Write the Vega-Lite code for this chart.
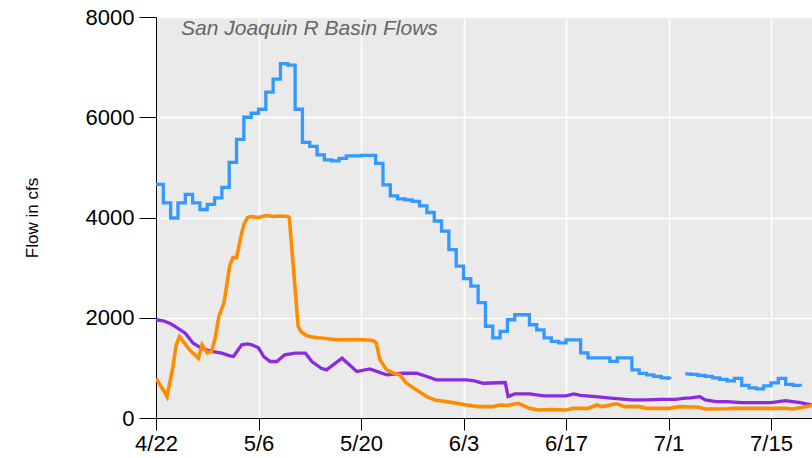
{
  "$schema": "https://vega.github.io/schema/vega-lite/v6.json",
  "width": 656,
  "height": 401,
  "autosize": {"type": "none"},
  "padding": {"left": 156, "top": 17, "right": 0, "bottom": 40},
  "background": "white",
  "title": {
    "text": "San Joaquin R Basin Flows",
    "anchor": "start",
    "frame": "group",
    "orient": "top",
    "offset": -33,
    "dx": 25,
    "fontSize": 21,
    "fontStyle": "italic",
    "fontWeight": "normal",
    "font": "Liberation Sans",
    "color": "#666666"
  },
  "config": {
    "view": {"fill": "#EAEAEA", "stroke": null},
    "axis": {
      "labelFont": "Liberation Sans",
      "titleFont": "Liberation Sans",
      "labelColor": "#000000",
      "titleColor": "#000000",
      "domainColor": "#000000",
      "tickColor": "#000000",
      "gridColor": "#FFFFFF",
      "gridWidth": 1.6,
      "gridOpacity": 1
    }
  },
  "datasets": {
    "blue": [
      {"t": "2019-04-22T00:00Z", "v": 4660},
      {"t": "2019-04-23T00:00Z", "v": 4290},
      {"t": "2019-04-24T00:00Z", "v": 3990},
      {"t": "2019-04-25T00:00Z", "v": 4290},
      {"t": "2019-04-26T00:00Z", "v": 4460},
      {"t": "2019-04-27T00:00Z", "v": 4290},
      {"t": "2019-04-28T00:00Z", "v": 4160},
      {"t": "2019-04-29T00:00Z", "v": 4260},
      {"t": "2019-04-30T00:00Z", "v": 4390},
      {"t": "2019-05-01T00:00Z", "v": 4600},
      {"t": "2019-05-02T00:00Z", "v": 5100},
      {"t": "2019-05-03T00:00Z", "v": 5560},
      {"t": "2019-05-04T00:00Z", "v": 6000},
      {"t": "2019-05-05T00:00Z", "v": 6080},
      {"t": "2019-05-06T00:00Z", "v": 6160},
      {"t": "2019-05-07T00:00Z", "v": 6500},
      {"t": "2019-05-08T00:00Z", "v": 6760},
      {"t": "2019-05-09T00:00Z", "v": 7070},
      {"t": "2019-05-10T00:00Z", "v": 7040},
      {"t": "2019-05-11T00:00Z", "v": 6160},
      {"t": "2019-05-12T00:00Z", "v": 5500},
      {"t": "2019-05-13T00:00Z", "v": 5420},
      {"t": "2019-05-14T00:00Z", "v": 5250},
      {"t": "2019-05-15T00:00Z", "v": 5150},
      {"t": "2019-05-16T00:00Z", "v": 5130},
      {"t": "2019-05-17T00:00Z", "v": 5180},
      {"t": "2019-05-18T00:00Z", "v": 5230},
      {"t": "2019-05-19T00:00Z", "v": 5230},
      {"t": "2019-05-20T00:00Z", "v": 5240},
      {"t": "2019-05-21T00:00Z", "v": 5240},
      {"t": "2019-05-22T00:00Z", "v": 5080},
      {"t": "2019-05-23T00:00Z", "v": 4650},
      {"t": "2019-05-24T00:00Z", "v": 4430},
      {"t": "2019-05-25T00:00Z", "v": 4370},
      {"t": "2019-05-26T00:00Z", "v": 4350},
      {"t": "2019-05-27T00:00Z", "v": 4320},
      {"t": "2019-05-28T00:00Z", "v": 4230},
      {"t": "2019-05-29T00:00Z", "v": 4100},
      {"t": "2019-05-30T00:00Z", "v": 3930},
      {"t": "2019-05-31T00:00Z", "v": 3730},
      {"t": "2019-06-01T00:00Z", "v": 3360},
      {"t": "2019-06-02T00:00Z", "v": 3030},
      {"t": "2019-06-03T00:00Z", "v": 2780},
      {"t": "2019-06-04T00:00Z", "v": 2630},
      {"t": "2019-06-05T00:00Z", "v": 2300},
      {"t": "2019-06-06T00:00Z", "v": 1830},
      {"t": "2019-06-07T00:00Z", "v": 1600},
      {"t": "2019-06-08T00:00Z", "v": 1730},
      {"t": "2019-06-09T00:00Z", "v": 1960},
      {"t": "2019-06-10T00:00Z", "v": 2060},
      {"t": "2019-06-11T00:00Z", "v": 2060},
      {"t": "2019-06-12T00:00Z", "v": 1860},
      {"t": "2019-06-13T00:00Z", "v": 1760},
      {"t": "2019-06-14T00:00Z", "v": 1600},
      {"t": "2019-06-15T00:00Z", "v": 1530},
      {"t": "2019-06-16T00:00Z", "v": 1500},
      {"t": "2019-06-17T00:00Z", "v": 1560},
      {"t": "2019-06-18T00:00Z", "v": 1560},
      {"t": "2019-06-19T00:00Z", "v": 1300},
      {"t": "2019-06-20T00:00Z", "v": 1200},
      {"t": "2019-06-21T00:00Z", "v": 1200},
      {"t": "2019-06-22T00:00Z", "v": 1200},
      {"t": "2019-06-23T00:00Z", "v": 1130},
      {"t": "2019-06-24T00:00Z", "v": 1200},
      {"t": "2019-06-25T00:00Z", "v": 1200},
      {"t": "2019-06-26T00:00Z", "v": 960},
      {"t": "2019-06-27T00:00Z", "v": 890},
      {"t": "2019-06-28T00:00Z", "v": 860},
      {"t": "2019-06-29T00:00Z", "v": 830},
      {"t": "2019-06-30T00:00Z", "v": 800},
      {"t": "2019-07-01T00:00Z", "v": 790},
      {"t": "2019-07-01T05:00Z", "v": 785},
      {"t": "2019-07-02T00:00Z", "v": null},
      {"t": "2019-07-03T07:00Z", "v": 880},
      {"t": "2019-07-04T00:00Z", "v": 870},
      {"t": "2019-07-05T00:00Z", "v": 850},
      {"t": "2019-07-06T00:00Z", "v": 830},
      {"t": "2019-07-07T00:00Z", "v": 800},
      {"t": "2019-07-08T00:00Z", "v": 770},
      {"t": "2019-07-09T00:00Z", "v": 740},
      {"t": "2019-07-10T00:00Z", "v": 790},
      {"t": "2019-07-11T00:00Z", "v": 650},
      {"t": "2019-07-12T00:00Z", "v": 600},
      {"t": "2019-07-13T00:00Z", "v": 580},
      {"t": "2019-07-14T00:00Z", "v": 640},
      {"t": "2019-07-15T00:00Z", "v": 700},
      {"t": "2019-07-16T00:00Z", "v": 790},
      {"t": "2019-07-17T00:00Z", "v": 670},
      {"t": "2019-07-18T00:00Z", "v": 650},
      {"t": "2019-07-19T00:00Z", "v": 630}
    ],
    "orange": [
      {"t": "2019-04-22T00:00Z", "v": 790},
      {"t": "2019-04-23T00:00Z", "v": 560},
      {"t": "2019-04-23T12:00Z", "v": 427},
      {"t": "2019-04-24T07:00Z", "v": 1000},
      {"t": "2019-04-24T18:00Z", "v": 1450},
      {"t": "2019-04-25T05:00Z", "v": 1627},
      {"t": "2019-04-26T05:00Z", "v": 1427},
      {"t": "2019-04-27T00:00Z", "v": 1300},
      {"t": "2019-04-27T19:00Z", "v": 1193},
      {"t": "2019-04-28T07:00Z", "v": 1460},
      {"t": "2019-04-29T00:00Z", "v": 1300},
      {"t": "2019-04-29T14:00Z", "v": 1330},
      {"t": "2019-04-30T02:00Z", "v": 1593},
      {"t": "2019-04-30T14:00Z", "v": 2027},
      {"t": "2019-05-01T07:00Z", "v": 2300},
      {"t": "2019-05-02T02:00Z", "v": 3050},
      {"t": "2019-05-02T12:00Z", "v": 3200},
      {"t": "2019-05-03T00:00Z", "v": 3200},
      {"t": "2019-05-03T12:00Z", "v": 3560},
      {"t": "2019-05-04T00:00Z", "v": 3860},
      {"t": "2019-05-04T12:00Z", "v": 4000},
      {"t": "2019-05-05T00:00Z", "v": 4020},
      {"t": "2019-05-06T00:00Z", "v": 4000},
      {"t": "2019-05-07T00:00Z", "v": 4040},
      {"t": "2019-05-08T00:00Z", "v": 4020},
      {"t": "2019-05-09T00:00Z", "v": 4030},
      {"t": "2019-05-10T00:00Z", "v": 4020},
      {"t": "2019-05-10T05:00Z", "v": 4000},
      {"t": "2019-05-11T10:00Z", "v": 1830},
      {"t": "2019-05-11T19:00Z", "v": 1727},
      {"t": "2019-05-12T12:00Z", "v": 1650},
      {"t": "2019-05-13T00:00Z", "v": 1627},
      {"t": "2019-05-14T00:00Z", "v": 1600},
      {"t": "2019-05-15T00:00Z", "v": 1590},
      {"t": "2019-05-16T00:00Z", "v": 1570},
      {"t": "2019-05-17T00:00Z", "v": 1560},
      {"t": "2019-05-18T00:00Z", "v": 1560},
      {"t": "2019-05-19T00:00Z", "v": 1565},
      {"t": "2019-05-20T00:00Z", "v": 1560},
      {"t": "2019-05-21T00:00Z", "v": 1555},
      {"t": "2019-05-21T17:00Z", "v": 1540},
      {"t": "2019-05-22T02:00Z", "v": 1500},
      {"t": "2019-05-22T14:00Z", "v": 1160},
      {"t": "2019-05-23T12:00Z", "v": 960},
      {"t": "2019-05-24T12:00Z", "v": 893},
      {"t": "2019-05-25T07:00Z", "v": 860},
      {"t": "2019-05-26T05:00Z", "v": 693},
      {"t": "2019-05-27T14:00Z", "v": 560},
      {"t": "2019-05-29T00:00Z", "v": 427},
      {"t": "2019-05-30T02:00Z", "v": 360},
      {"t": "2019-06-01T14:00Z", "v": 307},
      {"t": "2019-06-03T10:00Z", "v": 260},
      {"t": "2019-06-05T00:00Z", "v": 227},
      {"t": "2019-06-07T00:00Z", "v": 227},
      {"t": "2019-06-08T00:00Z", "v": 260},
      {"t": "2019-06-09T00:00Z", "v": 250},
      {"t": "2019-06-10T12:00Z", "v": 293},
      {"t": "2019-06-12T00:00Z", "v": 193},
      {"t": "2019-06-13T07:00Z", "v": 160},
      {"t": "2019-06-15T00:00Z", "v": 170},
      {"t": "2019-06-17T00:00Z", "v": 160},
      {"t": "2019-06-18T00:00Z", "v": 193},
      {"t": "2019-06-20T00:00Z", "v": 193},
      {"t": "2019-06-21T05:00Z", "v": 260},
      {"t": "2019-06-22T00:00Z", "v": 227},
      {"t": "2019-06-23T17:00Z", "v": 280},
      {"t": "2019-06-24T00:00Z", "v": 280},
      {"t": "2019-06-25T00:00Z", "v": 227},
      {"t": "2019-06-27T00:00Z", "v": 227},
      {"t": "2019-06-28T00:00Z", "v": 193},
      {"t": "2019-07-01T00:00Z", "v": 193},
      {"t": "2019-07-02T14:00Z", "v": 227},
      {"t": "2019-07-04T00:00Z", "v": 220},
      {"t": "2019-07-05T00:00Z", "v": 220},
      {"t": "2019-07-06T00:00Z", "v": 180},
      {"t": "2019-07-09T00:00Z", "v": 185},
      {"t": "2019-07-10T00:00Z", "v": 193},
      {"t": "2019-07-14T00:00Z", "v": 193},
      {"t": "2019-07-17T00:00Z", "v": 193},
      {"t": "2019-07-18T00:00Z", "v": 180},
      {"t": "2019-07-19T12:00Z", "v": 220},
      {"t": "2019-07-21T00:00Z", "v": 265}
    ],
    "purple": [
      {"t": "2019-04-22T00:00Z", "v": 1960},
      {"t": "2019-04-23T00:00Z", "v": 1940},
      {"t": "2019-04-24T00:00Z", "v": 1880},
      {"t": "2019-04-24T14:00Z", "v": 1827},
      {"t": "2019-04-26T00:00Z", "v": 1693},
      {"t": "2019-04-27T02:00Z", "v": 1493},
      {"t": "2019-04-28T05:00Z", "v": 1393},
      {"t": "2019-04-29T14:00Z", "v": 1327},
      {"t": "2019-05-01T00:00Z", "v": 1293},
      {"t": "2019-05-02T02:00Z", "v": 1240},
      {"t": "2019-05-02T14:00Z", "v": 1227},
      {"t": "2019-05-03T17:00Z", "v": 1460},
      {"t": "2019-05-04T12:00Z", "v": 1480},
      {"t": "2019-05-05T02:00Z", "v": 1460},
      {"t": "2019-05-06T00:00Z", "v": 1400},
      {"t": "2019-05-06T17:00Z", "v": 1227},
      {"t": "2019-05-07T14:00Z", "v": 1127},
      {"t": "2019-05-08T12:00Z", "v": 1127},
      {"t": "2019-05-09T14:00Z", "v": 1260},
      {"t": "2019-05-11T00:00Z", "v": 1293},
      {"t": "2019-05-12T10:00Z", "v": 1293},
      {"t": "2019-05-13T07:00Z", "v": 1127},
      {"t": "2019-05-14T14:00Z", "v": 993},
      {"t": "2019-05-15T07:00Z", "v": 960},
      {"t": "2019-05-17T10:00Z", "v": 1193},
      {"t": "2019-05-19T10:00Z", "v": 927},
      {"t": "2019-05-21T05:00Z", "v": 980},
      {"t": "2019-05-23T12:00Z", "v": 860},
      {"t": "2019-05-25T17:00Z", "v": 893},
      {"t": "2019-05-27T14:00Z", "v": 893},
      {"t": "2019-05-29T00:00Z", "v": 827},
      {"t": "2019-05-30T07:00Z", "v": 760},
      {"t": "2019-06-03T10:00Z", "v": 760},
      {"t": "2019-06-04T12:00Z", "v": 740},
      {"t": "2019-06-05T17:00Z", "v": 693},
      {"t": "2019-06-08T17:00Z", "v": 707},
      {"t": "2019-06-09T02:00Z", "v": 427},
      {"t": "2019-06-10T00:00Z", "v": 480},
      {"t": "2019-06-12T00:00Z", "v": 480},
      {"t": "2019-06-14T00:00Z", "v": 440},
      {"t": "2019-06-17T00:00Z", "v": 440},
      {"t": "2019-06-18T02:00Z", "v": 480},
      {"t": "2019-06-19T00:00Z", "v": 450},
      {"t": "2019-06-21T00:00Z", "v": 427},
      {"t": "2019-06-23T12:00Z", "v": 393},
      {"t": "2019-06-26T00:00Z", "v": 360},
      {"t": "2019-06-28T00:00Z", "v": 360},
      {"t": "2019-06-30T00:00Z", "v": 373},
      {"t": "2019-07-02T00:00Z", "v": 373},
      {"t": "2019-07-03T00:00Z", "v": 393},
      {"t": "2019-07-04T00:00Z", "v": 400},
      {"t": "2019-07-05T07:00Z", "v": 427},
      {"t": "2019-07-06T00:00Z", "v": 360},
      {"t": "2019-07-07T12:00Z", "v": 327},
      {"t": "2019-07-09T00:00Z", "v": 327},
      {"t": "2019-07-11T00:00Z", "v": 307},
      {"t": "2019-07-15T00:00Z", "v": 307},
      {"t": "2019-07-17T00:00Z", "v": 347},
      {"t": "2019-07-19T00:00Z", "v": 307},
      {"t": "2019-07-20T12:00Z", "v": 260},
      {"t": "2019-07-21T00:00Z", "v": 250}
    ]
  },
  "encoding": {
    "x": {
      "field": "t",
      "type": "temporal",
      "scale": {"type": "utc", "domain": [1555891200000, 1563632640000], "nice": false},
      "axis": {
        "title": null,
        "values": [1555891200000, 1557100800000, 1558310400000, 1559520000000, 1560729600000, 1561939200000, 1563148800000],
        "labelExpr": "utcFormat(datum.value, '%-m/%-d')",
        "labelFontSize": 22,
        "labelPadding": 3,
        "tickSize": 12,
        "grid": true,
        "labelFlush": false,
        "labelOverlap": false
      }
    },
    "y": {
      "field": "v",
      "type": "quantitative",
      "scale": {"domain": [0, 8000], "nice": false},
      "axis": {
        "title": "Flow in cfs",
        "titleFontSize": 17,
        "titleFontWeight": "normal",
        "titlePadding": 44,
        "values": [0, 2000, 4000, 6000, 8000],
        "format": "d",
        "labelFontSize": 22,
        "labelPadding": 5,
        "tickSize": 17,
        "grid": true
      }
    }
  },
  "layer": [
    {
      "data": {"name": "purple"},
      "mark": {"type": "line", "color": "#8A2BE2", "strokeWidth": 3.3, "clip": true}
    },
    {
      "data": {"name": "orange"},
      "mark": {"type": "line", "color": "#FF8C00", "strokeWidth": 3.6, "clip": true}
    },
    {
      "data": {"name": "blue"},
      "mark": {"type": "line", "color": "#3399FF", "strokeWidth": 3.3, "clip": true, "interpolate": "step-after", "invalid": "break-paths-filter-domains"}
    }
  ]
}
